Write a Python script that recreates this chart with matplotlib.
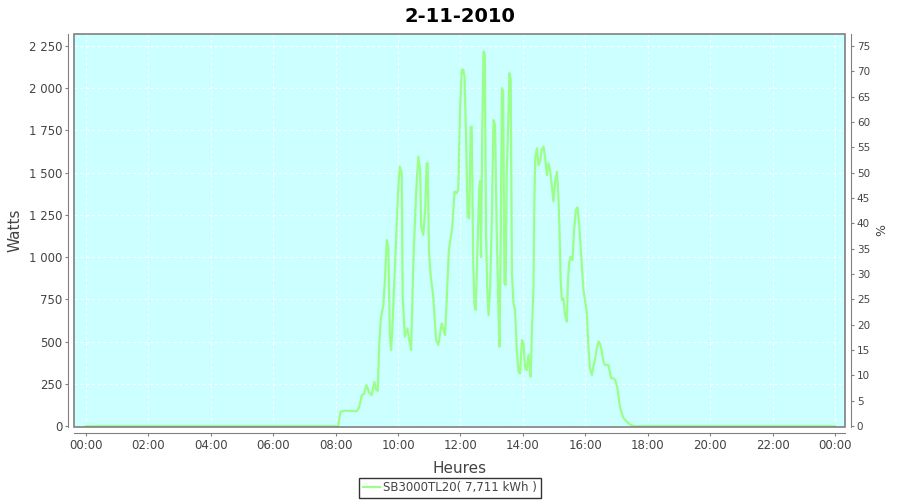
#!/usr/bin/env python3
"""Daily power curve of the SB3000TL20 inverter, 2-11-2010."""

import matplotlib
matplotlib.use('Agg')
import matplotlib.pyplot as plt
import matplotlib.patches as mpatches
from matplotlib.ticker import FuncFormatter, MultipleLocator

# Time of day (hours) and power (W)
HOURS = [
    0.0, 8.08, 8.16, 8.30, 8.50, 8.68, 8.76, 8.84, 8.91, 8.99, 9.07, 9.16, 9.24, 9.30,
    9.35, 9.40, 9.45, 9.53, 9.58, 9.64, 9.69, 9.74, 9.78, 9.83, 9.88, 9.96, 10.01,
    10.06, 10.12, 10.15, 10.22, 10.30, 10.36, 10.42, 10.49, 10.58, 10.65, 10.71, 10.74,
    10.81, 10.87, 10.92, 10.95, 10.99, 11.05, 11.13, 11.22, 11.29, 11.40, 11.51, 11.56,
    11.63, 11.74, 11.81, 11.88, 11.93, 11.99, 12.04, 12.09, 12.13, 12.18, 12.23, 12.28,
    12.33, 12.36, 12.41, 12.45, 12.49, 12.55, 12.60, 12.63, 12.66, 12.70, 12.74, 12.78,
    12.82, 12.86, 12.90, 12.95, 13.00, 13.06, 13.11, 13.16, 13.22, 13.25, 13.29, 13.33,
    13.37, 13.41, 13.45, 13.48, 13.54, 13.57, 13.61, 13.65, 13.70, 13.75, 13.80, 13.86,
    13.91, 13.97, 14.02, 14.07, 14.12, 14.18, 14.21, 14.25, 14.29, 14.34, 14.37, 14.40,
    14.45, 14.50, 14.55, 14.60, 14.66, 14.71, 14.77, 14.82, 14.87, 14.93, 14.98, 15.03,
    15.09, 15.14, 15.17, 15.21, 15.25, 15.30, 15.35, 15.41, 15.44, 15.48, 15.53, 15.59,
    15.64, 15.70, 15.75, 15.80, 15.87, 15.94, 15.99, 16.05, 16.10, 16.15, 16.21, 16.26,
    16.32, 16.37, 16.42, 16.47, 16.53, 16.58, 16.63, 16.74, 16.83, 16.90, 16.96, 17.03,
    17.11, 17.17, 17.22, 17.33, 17.43, 17.54, 17.65, 24.0,
]
WATTS = [
    0, 0, 85, 92, 90, 88, 114, 183, 190, 243, 200, 183, 262, 215,
    209, 490, 638, 716, 864, 1101, 1062, 529, 450, 627, 850, 1200, 1417,
    1535, 1496, 766, 529, 578, 510, 450, 963, 1378, 1594, 1515, 1180,
    1131, 1279, 1555, 1555, 1042, 884, 766, 510, 480, 608, 539, 746,
    1042, 1180, 1388, 1378, 1400, 1881, 2108, 2110, 2068, 1713, 1239, 1230,
    1772, 1772, 963, 715, 687, 1082, 1398, 1450, 1000, 1750, 2216, 2200,
    1141, 806, 657, 806, 1180, 1811, 1782, 1180, 667, 470, 1082, 1999,
    1980, 845, 835, 1476, 1851, 2088, 2049, 904, 726, 687, 470, 322,
    312, 510, 490, 342, 332, 421, 352, 293, 569, 825, 1358, 1594,
    1644, 1545, 1565, 1634, 1654, 1594, 1486, 1555, 1515, 1417, 1328, 1437,
    1506, 1358, 1180, 864, 746, 756, 657, 618, 845, 963, 1002, 983,
    1160, 1279, 1294, 1200, 1002, 806, 746, 667, 470, 342, 302, 352,
    401, 460, 500, 490, 441, 381, 362, 362, 283, 283, 273, 224,
    114, 75, 49, 26, 10, 2, 0, 0,
]

TITLE = '2-11-2010'
SERIES_LABEL = 'SB3000TL20( 7,711 kWh )'
NOMINAL_POWER = 3000  # W, right axis shows % of this

TEXT = '#444444'
BORDER = '#808080'
BG = '#CCFFFF'
LINE = '#99FF88'

plt.rcParams['font.family'] = ['DejaVu Sans']

fig = plt.figure(figsize=(9, 5), dpi=100)
ax = fig.add_axes([0.0822, 0.146, 0.8567, 0.786])
ax.set_facecolor(BG)

line, = ax.plot(HOURS, WATTS, color=LINE, lw=1.6, zorder=3)

ax.set_xlim(-0.38, 24.32)
ax.set_ylim(-5, 2320)

# x axis: every 2 hours, shown as HH:MM
ax.xaxis.set_major_locator(MultipleLocator(2))
ax.xaxis.set_major_formatter(FuncFormatter(lambda v, p: f'{int(round(v)) % 24:02d}:00'))
ax.yaxis.set_major_locator(MultipleLocator(250))
ax.yaxis.set_major_formatter(FuncFormatter(lambda v, p: f'{int(v):,}'.replace(',', ' ')))

ax.grid(True, color='white', ls=(0, (3, 3)), lw=0.7, zorder=1)

# JFreeChart-style axes sitting a few pixels off the plot area
for side in ['left', 'bottom']:
    ax.spines[side].set_position(('outward', 4))
    ax.spines[side].set_color(BORDER)
for side in ['top', 'right']:
    ax.spines[side].set_visible(False)
ax.add_patch(mpatches.Rectangle((0, 0), 1, 1, transform=ax.transAxes, fill=False,
                                edgecolor=BORDER, lw=1.2, zorder=4, clip_on=False))

ax.tick_params(colors=BORDER, labelcolor=TEXT, labelsize=8.5, length=2.5, width=0.8, pad=2)
ax.set_ylabel('Watts', fontsize=11, color=TEXT)
ax.yaxis.set_label_coords(-0.067, 0.5)
ax.set_xlabel('Heures', fontsize=11, color=TEXT)
ax.xaxis.set_label_coords(0.5, -0.087)
ax.set_title(TITLE, fontsize=14, fontweight='bold', pad=9)

# right axis in percent of nominal power
ax2 = ax.twinx()
lo, hi = ax.get_ylim()
ax2.set_ylim(lo / NOMINAL_POWER * 100, hi / NOMINAL_POWER * 100)
ax2.yaxis.set_major_locator(MultipleLocator(5))
for side in ['left', 'bottom', 'top']:
    ax2.spines[side].set_visible(False)
ax2.spines['right'].set_position(('outward', 4))
ax2.spines['right'].set_color(BORDER)
ax2.tick_params(colors=BORDER, labelcolor=TEXT, labelsize=7.5, length=2.5, width=0.8, pad=2)
ax2.set_ylabel('%', fontsize=9, color=TEXT, labelpad=4)

leg = fig.legend([line], [SERIES_LABEL], loc='center', bbox_to_anchor=(0.5, 0.024),
                 frameon=True, fancybox=False, fontsize=8.5, handlelength=1.4,
                 handletextpad=0.3, borderpad=0.3, borderaxespad=0)
leg.get_frame().set_edgecolor('black')
leg.get_frame().set_linewidth(1)
for t in leg.get_texts():
    t.set_color(TEXT)

fig.savefig('out.png', dpi=100, facecolor='white')
